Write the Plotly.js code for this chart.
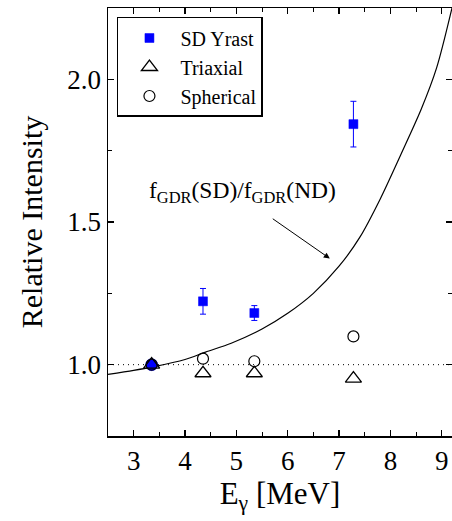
<!DOCTYPE html>
<html><head><meta charset="utf-8">
<script src="https://cdn.plot.ly/plotly-3.0.1.min.js"></script>
<style>html,body{margin:0;padding:0;background:#fff}</style>
</head><body>
<div id="chart" style="width:452px;height:521px"></div>
<script>
const energies = [3.35, 4.35, 5.35, 7.28];
const sdYrast = [1.0, 1.222, 1.181, 1.843];
const sdYrastErr = [0.0, 0.045, 0.026, 0.08];
const triaxial = [1.0, 0.97, 0.97, 0.951];
const spherical = [1.0, 1.021, 1.012, 1.099];
const curveX = [2.5, 3.0, 3.4, 4.0, 4.4, 4.9, 5.5, 6.0, 6.5, 7.0, 7.4, 7.8, 8.2, 8.6, 8.9, 9.2];
const curveY = [0.966, 0.98, 0.993, 1.018, 1.044, 1.075, 1.125, 1.18, 1.25, 1.345, 1.445, 1.58, 1.735, 1.895, 2.04, 2.25];

const font = "Liberation Serif";
const traces = [
  {x: curveX, y: curveY, mode: 'lines', line: {color: 'black', width: 1.2, shape: 'spline', smoothing: 0.8}, showlegend: false, hoverinfo: 'skip'},
  {x: energies, y: sdYrast, mode: 'markers', name: 'SD Yrast', showlegend: false,
   error_y: {type: 'data', array: sdYrastErr, color: 'blue', thickness: 1, width: 3},
   marker: {symbol: ['circle', 'square', 'square', 'square'], size: [12, 9, 9, 9], color: 'blue', opacity: 1,
            line: {width: 0.5, color: 'blue'}}},
  {x: [null], y: [null], mode: 'markers', name: 'SD Yrast',
   marker: {symbol: 'square', size: 9, color: 'blue', opacity: 1, line: {width: 0.5, color: 'blue'}}},
  {x: energies, y: triaxial, mode: 'markers', name: 'Triaxial',
   marker: {symbol: 'triangle-up-open', size: 14, color: 'black', opacity: 1, line: {width: 1.3}}},
  {x: energies, y: spherical, mode: 'markers', name: 'Spherical',
   marker: {symbol: 'circle-open', size: 11, color: 'black', opacity: 1, line: {width: 1.2}}}
];
const layout = {
  width: 452, height: 521,
  margin: {l: 108, r: 0, t: 8, b: 85},
  paper_bgcolor: 'white', plot_bgcolor: 'white',
  font: {family: font, color: 'black', size: 22},
  xaxis: {range: [2.5, 9.2], dtick: 1, tick0: 3, showgrid: false, zeroline: false,
    showline: true, linecolor: 'black', linewidth: 1.5, mirror: 'ticks',
    ticks: 'inside', ticklen: 6, tickwidth: 1.2, tickcolor: 'black',
    minor: {dtick: 0.5, ticks: 'inside', ticklen: 4, tickwidth: 1, tickcolor: 'black'},
    tickfont: {size: 27, family: font},
    title: {text: 'E<sub>γ</sub> [MeV]', font: {size: 31, family: font}, standoff: 0}},
  yaxis: {range: [0.75, 2.25], dtick: 0.5, tick0: 1.0, tickformat: '.1f', showgrid: false, zeroline: false,
    showline: true, linecolor: 'black', linewidth: 1.5, mirror: 'ticks',
    ticks: 'inside', ticklen: 6, tickwidth: 1.2, tickcolor: 'black',
    minor: {dtick: 0.25, ticks: 'inside', ticklen: 4, tickwidth: 1, tickcolor: 'black'},
    tickfont: {size: 27, family: font},
    title: {text: 'Relative Intensity', font: {size: 30, family: font}, standoff: 16}},
  legend: {x: 0.026, y: 0.979, xanchor: 'left', yanchor: 'top', bgcolor: 'white',
    bordercolor: 'black', borderwidth: 1.5, font: {size: 20, family: font}, tracegroupgap: 0,
    itemwidth: 52},
  shapes: [{type: 'line', xref: 'paper', x0: 0, x1: 1, yref: 'y', y0: 1.0, y1: 1.0,
    line: {color: 'black', width: 1, dash: '1px,4px'}, layer: 'below'}],
  annotations: [
    {x: 5.11, y: 1.605, xref: 'x', yref: 'y', showarrow: false,
     text: 'f<sub>GDR</sub>(SD)/f<sub>GDR</sub>(ND)', font: {size: 23.5, family: font}},
    {x: 6.82, y: 1.372, ax: 5.68, ay: 1.515, xref: 'x', yref: 'y', axref: 'x', ayref: 'y',
     text: '', showarrow: true, arrowhead: 2, arrowsize: 1.2, arrowwidth: 1, arrowcolor: 'black'}
  ]
};
Plotly.newPlot('chart', traces, layout, {displayModeBar: false, staticPlot: true});
</script>
</body></html>
